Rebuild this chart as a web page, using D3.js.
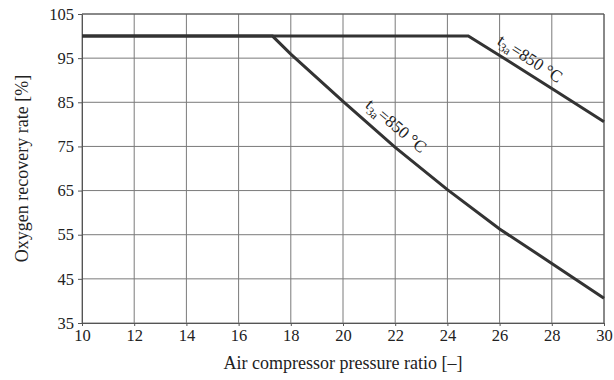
<!DOCTYPE html>
<html>
<head>
<meta charset="utf-8">
<script src="https://cdn.jsdelivr.net/npm/d3@7"></script>
<style>
  body { margin: 0; background: #fff; }
  text { font-family: "Liberation Serif", "Times New Roman", serif; fill: #222; }
</style>
</head>
<body>
<div id="chart"></div>
<script>
// data
var xTicks = [10, 12, 14, 16, 18, 20, 22, 24, 26, 28, 30];
var yTicks = [35, 45, 55, 65, 75, 85, 95, 105];

// t3a = 850 °C, upper curve
var upperX = [10, 24.8, 26, 28, 30];
var upperY = [100, 100, 95.6, 88.1, 80.6];

// t3a = 850 °C, lower curve
var lowerX = [10, 17.3, 18, 20, 22, 24, 26, 28, 30];
var lowerY = [100, 100, 95.9, 85.2, 74.8, 65.2, 56.3, 48.5, 40.6];

var margin = {top: 14, right: 10, bottom: 57, left: 82},
    W = 614, H = 380,
    width = W - margin.left - margin.right,
    height = H - margin.top - margin.bottom;

var svg = d3.select("#chart").append("svg")
    .attr("width", W)
    .attr("height", H);

var g = svg.append("g")
    .attr("transform", `translate(${margin.left},${margin.top})`);

var x = d3.scaleLinear().domain([10, 30]).range([0, width]);
var y = d3.scaleLinear().domain([35, 105]).range([height, 0]);

// grid
g.append("g")
  .selectAll("line")
  .data(xTicks)
  .join("line")
    .attr("x1", d => x(d)).attr("x2", d => x(d))
    .attr("y1", 0).attr("y2", height)
    .attr("stroke", "#7a7a7a").attr("stroke-width", 1);

g.append("g")
  .selectAll("line")
  .data(yTicks)
  .join("line")
    .attr("x1", 0).attr("x2", width)
    .attr("y1", d => y(d)).attr("y2", d => y(d))
    .attr("stroke", "#7a7a7a").attr("stroke-width", 1);

// axes
var xAxis = g.append("g")
  .attr("transform", `translate(0,${height})`)
  .call(d3.axisBottom(x).tickValues(xTicks).tickSize(3).tickPadding(3).tickSizeOuter(0));
var yAxis = g.append("g")
  .call(d3.axisLeft(y).tickValues(yTicks).tickSize(4).tickPadding(4).tickSizeOuter(0));

[xAxis, yAxis].forEach(function(a) {
  a.select(".domain").attr("stroke", "#555");
  a.selectAll(".tick line").attr("stroke", "#555");
  a.selectAll("text")
    .style("font-family", "'Liberation Serif', 'Times New Roman', serif")
    .style("font-size", "16.5px")
    .attr("fill", "#222");
});

// right and top border
g.append("line").attr("x1", width).attr("x2", width).attr("y1", 0).attr("y2", height)
  .attr("stroke", "#555");
g.append("line").attr("x1", 0).attr("x2", width).attr("y1", 0).attr("y2", 0)
  .attr("stroke", "#555");

// curves
var line = d3.line()
  .x(d => x(d[0]))
  .y(d => y(d[1]));

g.append("path")
  .datum(d3.zip(lowerX, lowerY))
  .attr("d", line)
  .attr("fill", "none")
  .attr("stroke", "#333")
  .attr("stroke-width", 3);

g.append("path")
  .datum(d3.zip(upperX, upperY))
  .attr("d", line)
  .attr("fill", "none")
  .attr("stroke", "#333")
  .attr("stroke-width", 3);

// curve labels
function curveLabel(px, py, angle) {
  var t = g.append("text")
    .attr("transform", `translate(${px},${py}) rotate(${angle})`)
    .attr("text-anchor", "middle")
    .style("font-size", "17px");
  t.append("tspan").text("t");
  t.append("tspan").attr("dy", 4).style("font-size", "12px").text("3a");
  t.append("tspan").attr("dy", -4).text("=850 °C");
}

curveLabel(x(27.05), y(93.8), 33);
curveLabel(x(21.9), y(78.7), 40);

// axis titles
svg.append("text")
  .attr("x", margin.left + width / 2)
  .attr("y", 369)
  .attr("text-anchor", "middle")
  .style("font-size", "18px")
  .text("Air compressor pressure ratio [–]");

svg.append("text")
  .attr("transform", `translate(28,${margin.top + height / 2}) rotate(-90)`)
  .attr("text-anchor", "middle")
  .style("font-size", "18px")
  .text("Oxygen recovery rate [%]");
</script>
</body>
</html>
